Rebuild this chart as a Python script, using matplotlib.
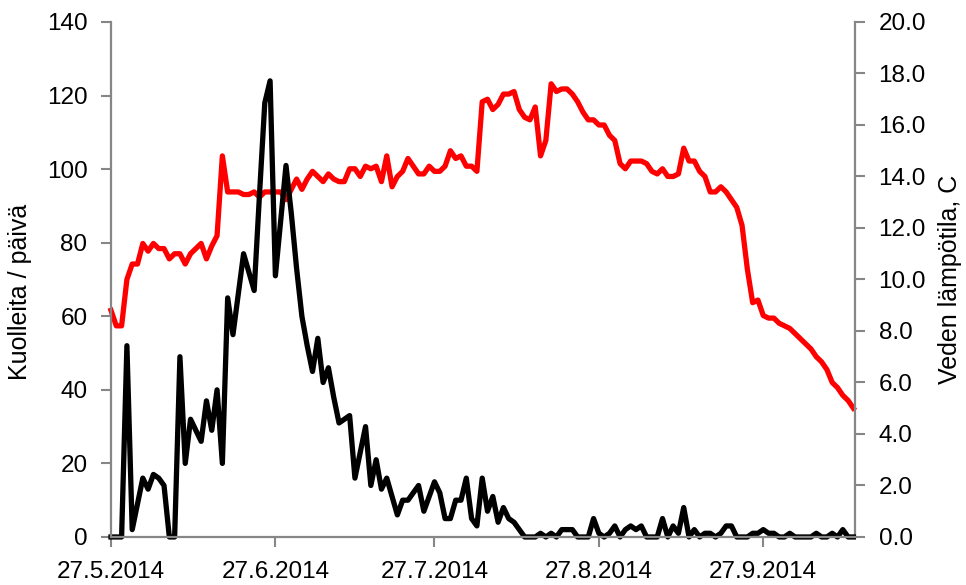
import matplotlib.pyplot as plt
import pandas as pd

# päivittäiset arvot 27.5.2014 alkaen
alku = "2014-05-27"
kuolleet = [0, 0, 0, 52, 2, 9, 16, 13, 17, 16,
            14, 0, 0, 49, 20, 32, 29, 26, 37, 29,
            40, 20, 65, 55, 66, 77, 72, 67, 93, 118,
            124, 71, 86, 101, 88, 73, 60, 52, 45, 54,
            42, 46, 38, 31, 32, 33, 16, 23, 30, 14,
            21, 13, 16, 11, 6, 10, 10, 12, 14, 7,
            11, 15, 12, 5, 5, 10, 10, 16, 5, 3,
            16, 7, 11, 4, 8, 5, 4, 2, 0, 0,
            0, 1, 0, 1, 0, 2, 2, 2, 0, 0,
            0, 5, 1, 0, 1, 3, 0, 2, 3, 2,
            3, 0, 0, 0, 5, 0, 3, 1, 8, 0,
            2, 0, 1, 1, 0, 1, 3, 3, 0, 0,
            0, 1, 1, 2, 1, 1, 0, 0, 1, 0,
            0, 0, 0, 1, 0, 0, 1, 0, 2, 0,
            0]
lampotila = [8.8, 8.2, 8.2, 10.0, 10.6, 10.6, 11.4, 11.1, 11.4, 11.2,
             11.2, 10.8, 11.0, 11.0, 10.6, 11.0, 11.2, 11.4, 10.8, 11.3,
             11.7, 14.8, 13.4, 13.4, 13.4, 13.3, 13.3, 13.4, 13.2, 13.4,
             13.4, 13.4, 13.4, 13.1, 13.5, 13.9, 13.5, 13.9, 14.2, 14.0,
             13.8, 14.1, 13.9, 13.8, 13.8, 14.3, 14.3, 14.0, 14.4, 14.3,
             14.4, 13.8, 14.8, 13.6, 14.0, 14.2, 14.7, 14.4, 14.1, 14.1,
             14.4, 14.2, 14.2, 14.4, 15.0, 14.7, 14.8, 14.4, 14.4, 14.2,
             16.9, 17.0, 16.6, 16.8, 17.2, 17.2, 17.3, 16.6, 16.3, 16.2,
             16.7, 14.8, 15.4, 17.6, 17.3, 17.4, 17.4, 17.2, 16.9, 16.5,
             16.2, 16.2, 16.0, 16.0, 15.6, 15.4, 14.5, 14.3, 14.6, 14.6,
             14.6, 14.5, 14.2, 14.1, 14.3, 14.0, 14.0, 14.1, 15.1, 14.6,
             14.6, 14.2, 14.0, 13.4, 13.4, 13.6, 13.4, 13.1, 12.8, 12.1,
             10.4, 9.1, 9.2, 8.6, 8.5, 8.5, 8.3, 8.2, 8.1, 7.9,
             7.7, 7.5, 7.3, 7.0, 6.8, 6.5, 6.0, 5.8, 5.5, 5.3,
             5.0]

x_ticks = ["2014-05-27", "2014-06-27", "2014-07-27", "2014-08-27", "2014-09-27"]
x_labels = ["27.5.2014", "27.6.2014", "27.7.2014", "27.8.2014", "27.9.2014"]
y1_ticks = [0, 20, 40, 60, 80, 100, 120, 140]
y2_ticks = [0, 2, 4, 6, 8, 10, 12, 14, 16, 18, 20]

pvm = pd.date_range(alku, periods=len(kuolleet), freq="D")

plt.rcParams["font.family"] = ["Liberation Sans", "DejaVu Sans"]
grey = "#868686"

fig = plt.figure(figsize=(9.66, 5.85), dpi=100)
ax = fig.add_axes([0.1149, 0.0821, 0.7702, 0.8803])
ax2 = ax.twinx()
ax.set_zorder(ax2.get_zorder() + 1)   # musta viiva punaisen päälle
ax.patch.set_visible(False)

ax2.plot(pvm, lampotila, color="#ff0000", lw=3.8, clip_on=False)
ax.plot(pvm, kuolleet, color="black", lw=3.8, clip_on=False)

ax.set_xlim(pd.Timestamp(alku), pd.Timestamp(alku) + pd.Timedelta(hours=140.3 * 24))
ax.set_ylim(0, 140)
ax2.set_ylim(0, 20)

ax.set_xticks(pd.to_datetime(x_ticks))
ax.set_xticklabels(x_labels)
ax.set_yticks(y1_ticks)
ax2.set_yticks(y2_ticks)
ax2.set_yticklabels(["%.1f" % v for v in y2_ticks])

for a in (ax, ax2):
    a.spines["top"].set_visible(False)
    for s in a.spines.values():
        s.set_color(grey)
        s.set_linewidth(1.6)
ax.spines["right"].set_visible(False)
ax2.spines["left"].set_visible(False)
ax2.spines["bottom"].set_visible(False)

ax.tick_params(axis="both", direction="out", length=7, width=1.5, color=grey,
               pad=10, labelsize=17.5)
ax2.tick_params(axis="y", direction="out", length=7, width=1.5, color=grey,
                pad=10, labelsize=17.5)

ax.set_ylabel("Kuolleita / päivä", fontsize=18)
ax.yaxis.set_label_coords(-0.106, 0.475)
ax2.set_ylabel("Veden lämpötila, C", fontsize=18, rotation=90)
ax2.yaxis.set_label_coords(1.112, 0.5)

fig.savefig("out.png", dpi=100)
